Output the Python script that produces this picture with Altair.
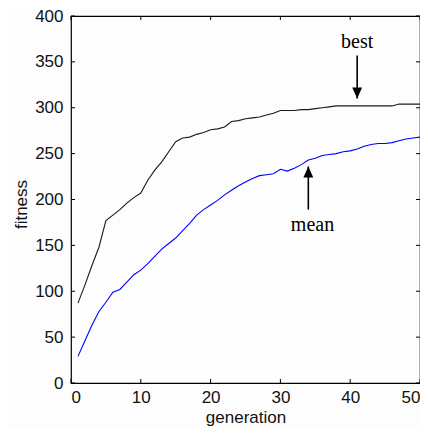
import altair as alt
import pandas as pd

generation = list(range(1, 51))
best = [87, 107, 128, 148, 177, 183, 189, 196, 202, 207,
        221, 232, 241, 252, 263, 267, 268, 271, 273, 276,
        277, 279, 285, 286, 288, 289, 290, 292, 294, 297,
        297, 297, 298, 298, 299, 300, 301, 302, 302, 302,
        302, 302, 302, 302, 302, 302, 304, 304, 304, 304]
mean = [29, 46, 63, 78, 88, 99, 102, 110, 118, 123,
        130, 138, 146, 152, 158, 166, 174, 183, 189, 194,
        199, 205, 210, 215, 219, 223, 226, 227, 228, 233,
        231, 234, 238, 243, 245, 248, 249, 250, 252, 253,
        255, 258, 260, 261, 261, 262, 264, 266, 267, 268]

x_ticks = [0, 10, 20, 30, 40, 50]
y_ticks = [0, 50, 100, 150, 200, 250, 300, 350, 400]

# annotations: label, text x, text baseline y, arrow x, arrow tail y, arrow tip y
ann_label = ["best", "mean"]
ann_tx = [41, 34.6]
ann_ty = [365, 166]
ann_ax = [41, 34]
ann_tail = [357, 189]
ann_tip = [310, 236]

W, H = 349, 367
xs = alt.Scale(domain=[0, 50], nice=False, zero=False)
ys = alt.Scale(domain=[0, 400], nice=False)

df = pd.DataFrame({"generation": generation * 2,
                   "fitness": best + mean,
                   "series": ["best"] * 50 + ["mean"] * 50})

lines = alt.Chart(df).mark_line(strokeWidth=1.1).encode(
    x=alt.X("generation:Q", scale=xs,
            axis=alt.Axis(values=x_ticks, title="generation", labelPadding=6,
                          titlePadding=4)),
    y=alt.Y("fitness:Q", scale=ys,
            axis=alt.Axis(values=y_ticks, title="fitness", labelPadding=8,
                          titleX=-50, titleY=188, titleBaseline="middle",
                          titleAngle=270)),
    color=alt.Color("series:N",
                    scale=alt.Scale(domain=["best", "mean"], range=["#1a1a1a", "#0000ff"]),
                    legend=None),
    detail="series:N",
)

xt = pd.DataFrame({"t": x_ticks})
yt = pd.DataFrame({"t": y_ticks})
tick_style = dict(color="black", strokeWidth=1)
bt = alt.Chart(xt).mark_rule(**tick_style).encode(
    x=alt.X("t:Q", scale=xs), y=alt.value(H), y2=alt.value(H - 4))
tt = alt.Chart(xt).mark_rule(**tick_style).encode(
    x=alt.X("t:Q", scale=xs), y=alt.value(0), y2=alt.value(4))
lt = alt.Chart(yt).mark_rule(**tick_style).encode(
    y=alt.Y("t:Q", scale=ys), x=alt.value(0), x2=alt.value(4))
rt = alt.Chart(yt).mark_rule(**tick_style).encode(
    y=alt.Y("t:Q", scale=ys), x=alt.value(W), x2=alt.value(W - 4))

ann = pd.DataFrame({"label": ann_label, "tx": ann_tx, "ty": ann_ty,
                    "ax": ann_ax, "tail": ann_tail, "tip": ann_tip})
texts = alt.Chart(ann).mark_text(font="Liberation Serif", fontSize=20,
                                 color="black", baseline="alphabetic").encode(
    x=alt.X("tx:Q", scale=xs), y=alt.Y("ty:Q", scale=ys), text="label:N")
shafts = alt.Chart(ann).mark_rule(color="black", strokeWidth=1.6).encode(
    x=alt.X("ax:Q", scale=xs), y=alt.Y("tail:Q", scale=ys), y2="tip:Q")
heads_down = alt.Chart(ann[ann.label == "best"]).mark_point(
    shape="M-0.9,-2L0.9,-2L0,0Z", filled=True, color="black", opacity=1, size=121
).encode(x=alt.X("ax:Q", scale=xs), y=alt.Y("tip:Q", scale=ys))
heads_up = alt.Chart(ann[ann.label == "mean"]).mark_point(
    shape="M-0.9,2L0.9,2L0,0Z", filled=True, color="black", opacity=1, size=121
).encode(x=alt.X("ax:Q", scale=xs), y=alt.Y("tip:Q", scale=ys))

chart = alt.layer(lines, bt, tt, lt, rt, shafts, heads_down, heads_up, texts).properties(
    width=W, height=H,
    autosize=alt.AutoSizeParams(type="none"),
    padding={"left": 63, "top": 8, "right": 0, "bottom": 45},
    background="#fdfdfd",
).configure_view(stroke="black", strokeWidth=1.2).configure_axis(
    domain=False, ticks=False, grid=False,
    labelFont="Liberation Sans", labelFontSize=17, labelColor="#111111",
    titleFont="Liberation Sans", titleFontSize=17, titleColor="#111111",
    titleFontWeight="normal",
)

chart.save("out.html", embed_options={"renderer": "svg", "actions": False})
